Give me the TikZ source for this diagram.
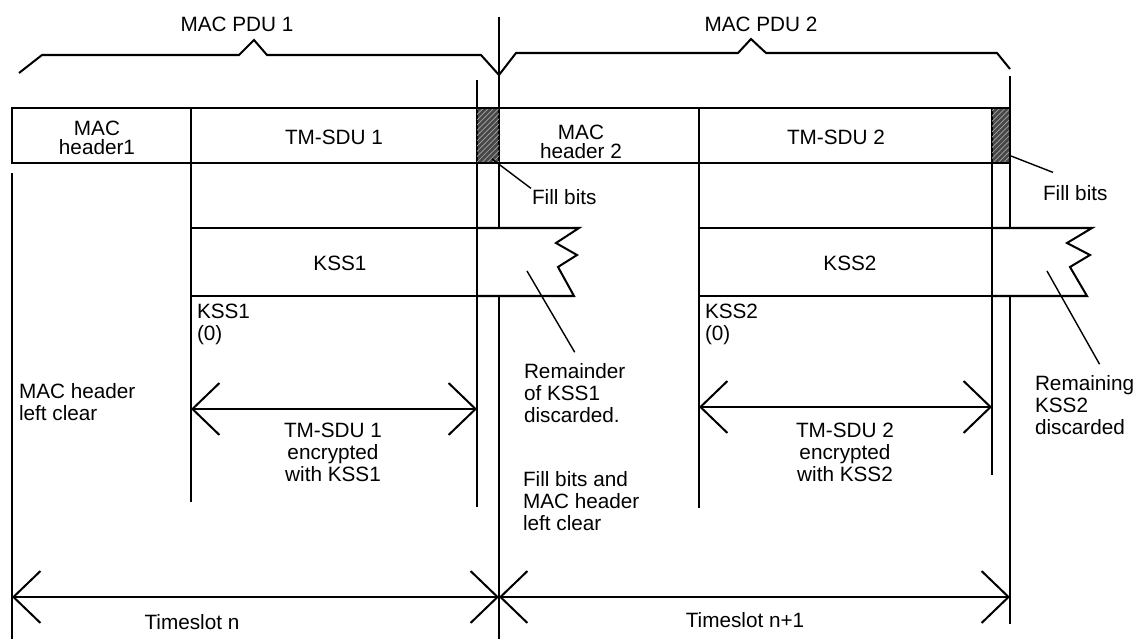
\documentclass[tikz,border=0pt]{standalone}
\usepackage{fontspec}
\setmainfont{Liberation Sans}
\usetikzlibrary{arrows.meta,patterns}

\tikzset{
  txt/.style={font=\fontsize{11.8}{12.6}\selectfont, inner sep=0pt, align=left},
  bartxt/.style={font=\fontsize{11.8}{10.6}\selectfont, inner sep=0pt, align=center},
  dimarrow/.style={{Straight Barb[length=5.4mm,width=10.4mm]}-{Straight Barb[length=5.4mm,width=10.4mm]}},
  leader/.style={line width=0.8pt},
  fillbits/.style={fill=black!72, postaction={pattern=north east lines, pattern color=black!35}}
}

\begin{document}
\begin{tikzpicture}[x=0.02cm, y=-0.02cm, line width=1.15pt]
    \useasboundingbox (0,0) rectangle (1137,639);
    % PDU braces
    \draw (19,73) -- (42,55) -- (239,55) -- (254,40) -- (267,55) -- (481,55) -- (499,75);
    \draw (499,75) -- (516,53) -- (738,53) -- (751,39) -- (766,53) -- (997,53) -- (1010,69);
    \node (pdu1) at (237,24) [txt] {MAC PDU 1};
    \node (pdu2) at (761,24) [txt] {MAC PDU 2};
    % Vertical lines
    \draw (12,173) -- (12,639);
    \draw (191,108) -- (191,502);
    \draw (477,80) -- (477,507);
    \draw (499,17) -- (499,639);
    \draw (699,108) -- (699,508);
    \draw (992,108) -- (992,475);
    \draw (1010,76) -- (1010,624);
    % MAC PDU bar
    \draw[fillbits] (477,108) rectangle (499,163);
    \draw[fillbits] (992,108) rectangle (1010,163);
    \draw (12,108) rectangle (1010,163);
    \node (hdr1) at (97,138) [bartxt] {MAC\\header1};
    \node (sdu1) at (334,137) [txt] {TM-SDU 1};
    \node (hdr2) at (581,142) [bartxt] {MAC\\header 2};
    \node (sdu2) at (836,137) [txt] {TM-SDU 2};
    % Key stream segments
    \filldraw[fill=white] (477,228) -- (579,228) -- (556,243) -- (577,255) -- (558,267) -- (574,296) -- (477,296);
    \draw (191,228) rectangle (477,296);
    \filldraw[fill=white] (992,228) -- (1092,228) -- (1067,243) -- (1090,255) -- (1070,267) -- (1087,296) -- (992,296);
    \draw (699,228) rectangle (992,296);
    \node (kss1) at (340,263) [txt] {KSS1};
    \node (kss2) at (850,263) [txt] {KSS2};
    \node (kss1zero) at (196,324) [txt, anchor=west] {KSS1\\(0)};
    \node (kss2zero) at (704,324) [txt, anchor=west] {KSS2\\(0)};
    % Notes
    \node (fill1) at (531,197) [txt, anchor=west] {Fill bits};
    \node (fill2) at (1042,193) [txt, anchor=west] {Fill bits};
    \node (hdrclear) at (18,402) [txt, anchor=west] {MAC header\\left clear};
    \node (remain1) at (523,393) [txt, anchor=west] {Remainder\\of KSS1\\discarded.};
    \node (remain2) at (1034,405) [txt, anchor=west] {Remaining\\KSS2\\discarded};
    \node (fillclear) at (522,501) [txt, anchor=west] {Fill bits and\\MAC header\\left clear};
    \node (enc1) at (333,452) [txt, align=center] {TM-SDU 1\\encrypted\\with KSS1};
    \node (enc2) at (845,452) [txt, align=center] {TM-SDU 2\\encrypted\\with KSS2};
    \node (slotn) at (192,622) [txt] {Timeslot n};
    \node (slotnn) at (745,620) [txt] {Timeslot n+1};
    % Leader lines
    \coordinate (fb1) at (492,159);
    \coordinate (fb2) at (1011,156);
    \coordinate (rk1) at (527,271);
    \coordinate (rk2) at (1047,271);
    \draw[leader] (fb1) -- (fill1.north west);
    \draw[leader] (fb2) -- ([xshift=0.22cm,yshift=0.24cm]fill2.north west);
    \draw[leader] (rk1) -- ([yshift=0.2cm]remain1.north);
    \draw[leader] (rk2) -- ([xshift=0.3cm,yshift=0.2cm]remain2.north);
    % Dimension arrows
    \coordinate (enc1l) at (191,409);
    \coordinate (enc1r) at (477,409);
    \coordinate (enc2l) at (699,407);
    \coordinate (enc2r) at (992,407);
    \coordinate (slotl) at (12,597);
    \coordinate (slotm) at (499,597);
    \coordinate (slotr) at (1010,597);
    \draw[dimarrow] (enc1l) -- (enc1r);
    \draw[dimarrow] (enc2l) -- (enc2r);
    \draw[dimarrow] (slotl) -- (slotm);
    \draw[dimarrow] (slotm) -- (slotr);
\end{tikzpicture}
\end{document}
